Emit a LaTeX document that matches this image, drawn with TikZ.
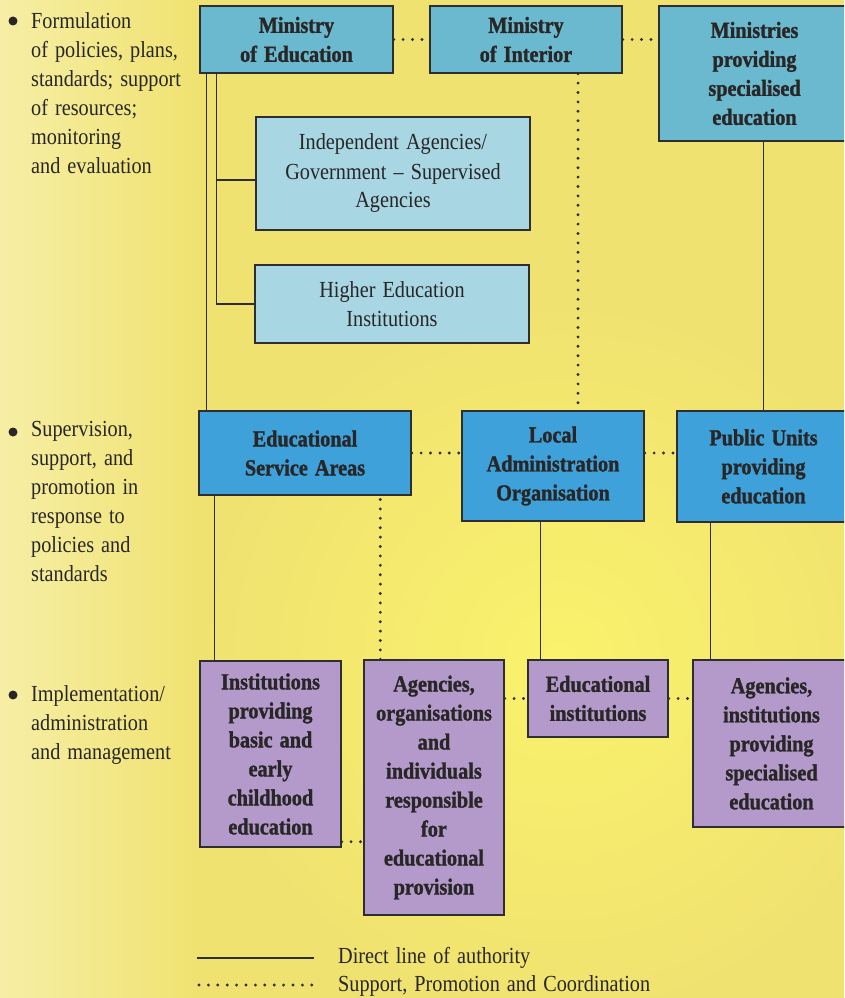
\documentclass[tikz,border=0pt]{standalone}
\usepackage{fontspec}
\setmainfont{Liberation Serif}[FakeStretch=0.88,WordSpace=1.4,BoldFeatures={FakeBold=1.3}]
\usetikzlibrary{positioning}
\definecolor{minblue}{RGB}{107,185,206}
\definecolor{agblue}{RGB}{168,214,227}
\definecolor{areablue}{RGB}{63,161,217}
\definecolor{instpurple}{RGB}{180,154,202}
\definecolor{bgyellow}{RGB}{240,226,112}
\definecolor{bglight}{RGB}{250,242,108}
\definecolor{bgpale}{RGB}{246,238,165}
\definecolor{edge}{RGB}{45,45,50}
\definecolor{ink}{RGB}{40,38,38}

\begin{document}
\begin{tikzpicture}[x=1pt,y=-1pt,
  box/.style={draw=edge,line width=1.4pt,inner sep=0pt,align=center,text=ink,font=\fontsize{23}{29}\selectfont},
  hbox/.style={box,font=\fontsize{23}{29}\selectfont\bfseries},
  auth/.style={draw=edge,line width=1.2pt},
  supp/.style={draw=edge,line width=3.2pt,line cap=round,dash pattern=on 0pt off 9.4pt},
  dot/.style={circle,fill=ink,minimum size=9pt,inner sep=0pt},
  note/.style={anchor=north west,inner sep=0pt,align=left,text=ink,font=\fontsize{23}{29}\selectfont}]
\clip (0,0) rectangle (844,998);
\fill[bgyellow] (0,0) rectangle (844,998);
\shade[inner color=bglight,outer color=bgyellow] (560,660) circle (360);
\shade[left color=bgpale,right color=bgyellow] (0,0) rectangle (200,998);

% level 1
\node[hbox,fill=minblue,minimum width=193,minimum height=67] (moe) at (296.5,39.5) {Ministry\\of Education};
\node[hbox,fill=minblue,minimum width=192,minimum height=67] (moi) at (526,39.5) {Ministry\\of Interior};
\node[hbox,fill=minblue,minimum width=191,minimum height=135] (minspec) at (754.5,73.5) {Ministries\\providing\\specialised\\education};
\node[box,fill=agblue,minimum width=274,minimum height=113] (indep) at (393,173.5) {Independent Agencies/\\Government -- Supervised\\Agencies};
\node[box,fill=agblue,minimum width=274,minimum height=78] (higher) at (392,304) {Higher Education\\Institutions};

% level 2
\node[hbox,fill=areablue,minimum width=212,minimum height=84] (esa) at (305,453) {Educational\\Service Areas};
\node[hbox,fill=areablue,minimum width=182,minimum height=110] (lao) at (553,466) {Local\\Administration\\Organisation};
\node[hbox,fill=areablue,minimum width=173,minimum height=111] (pu) at (763.5,466.5) {Public Units\\providing\\education};

% level 3
\node[hbox,fill=instpurple,minimum width=141,minimum height=186] (inst) at (270.5,754) {Institutions\\providing\\basic and\\early\\childhood\\education};
\node[hbox,fill=instpurple,minimum width=140,minimum height=255] (agen) at (434,787.5) {Agencies,\\organisations\\and\\individuals\\responsible\\for\\educational\\provision};
\node[hbox,fill=instpurple,minimum width=140,minimum height=77] (edu) at (598,698.5) {Educational\\institutions};
\node[hbox,fill=instpurple,minimum width=157,minimum height=167] (agi) at (771.5,743.5) {Agencies,\\institutions\\providing\\specialised\\education};

% connectors
\draw[supp] (moe.east) -- (moi.west);
\draw[supp] (moi.east) -- (moi.east -| minspec.west);
\draw[auth] ([xshift=8pt]esa.north west) -- ([xshift=8pt]esa.north west |- moe.south);
\coordinate (trunk) at ([xshift=17pt]moe.south west);
\draw[auth] (trunk) |- (higher.west);
\draw[auth] ([yshift=-6.5pt]indep.west) -- ([yshift=-6.5pt]indep.west -| trunk);
\draw[supp] ([xshift=52pt]moi.south) -- ([xshift=52pt]moi.south |- lao.north);
\draw[auth] (pu.north |- minspec.south) -- (pu.north);
\draw[supp] (esa.east) -- (esa.east -| lao.west);
\draw[supp] (lao.east |- esa.east) -- (pu.west |- esa.east);
\draw[auth] ([xshift=15pt]inst.north west) -- ([xshift=15pt]inst.north west |- esa.south);
\draw[supp] ([xshift=17pt]agen.north west) -- ([xshift=17pt]agen.north west |- esa.south);
\draw[auth] ([xshift=13pt]edu.north west) -- ([xshift=13pt]edu.north west |- lao.south);
\draw[auth] ([xshift=18pt]agi.north west) -- ([xshift=18pt]agi.north west |- pu.south);
\draw[supp] ([yshift=6pt]inst.south east) -- ([yshift=6pt]inst.south east -| agen.west);
\draw[supp] (edu.west -| agen.east) -- (edu.west);
\draw[supp] (edu.east) -- (edu.east -| agi.west);

% roles on the left
\node[dot] (b1) at (13,21) {};
\node[note] (role1) at (31,12) {Formulation\\of policies, plans,\\standards; support\\of resources;\\monitoring\\and evaluation};
\node[dot] (b2) at (13,432) {};
\node[note] (role2) at (31,421) {Supervision,\\support, and\\promotion in\\response to\\policies and\\standards};
\node[dot] (b3) at (13,695) {};
\node[note] (role3) at (31,685) {Implementation/\\administration\\and management};

% legend
\coordinate (lsolid) at (197,958);
\coordinate (ldots) at (199,985);
\draw[auth] (lsolid) -- ++(117,0);
\draw[supp] (ldots) -- ++(115,0);
\node[note,anchor=base west] (ltxt1) at (338,963) {Direct line of authority};
\node[note,anchor=base west] (ltxt2) at (338,991) {Support, Promotion and Coordination};
\end{tikzpicture}
\end{document}
